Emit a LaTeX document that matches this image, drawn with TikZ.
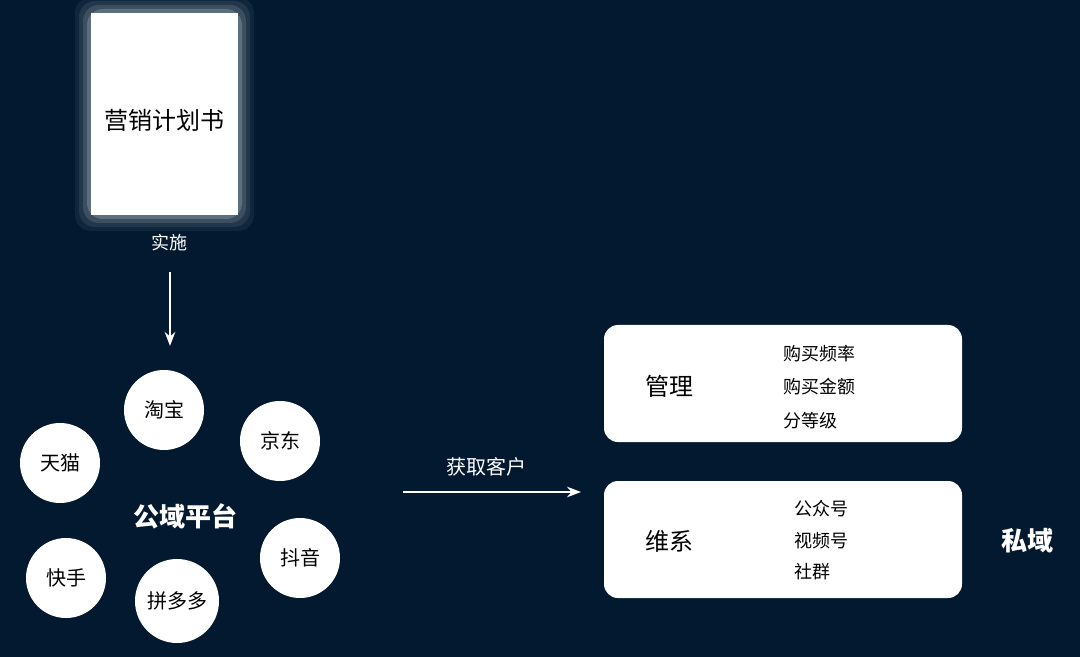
\documentclass[tikz,border=0pt]{standalone}
\usepackage{fontspec}
\newfontfamily\cjk{Noto Sans CJK SC}
\usetikzlibrary{arrows.meta}
\definecolor{navy}{RGB}{2,25,48}
\tikzset{
  bubble/.style={circle,fill=white,minimum size=40pt,inner sep=0pt,font=\cjk\fontsize{10}{12}\selectfont},
  panel/.style={rounded corners=7pt,fill=white},
  lbl/.style={text=white,font=\cjk\fontsize{9}{11}\selectfont},
  item/.style={anchor=west,font=\cjk\fontsize{9}{11}\selectfont},
  flow/.style={white,line width=1.2pt,-{Stealth[length=7pt]}}
}
\begin{document}
\begin{tikzpicture}[x=0.5pt,y=0.5pt,yscale=-1]
\fill[navy] (0,0) rectangle (1080,657);
\useasboundingbox (0,0) rectangle (1080,657);

% glow round the plan
\foreach \g/\o in {16/0.06,12/0.08,8/0.12,4/0.18}
  \fill[white,opacity=\o,rounded corners=8pt] (91-\g,13-\g) rectangle (238+\g,215+\g);
\fill[white] (91,13) rectangle (238,215);
\node (plan) at (164.5,120) {\cjk\fontsize{12}{14}\selectfont 营销计划书};
\node[lbl] (act) at (169,243) {实施};
\coordinate (top) at (170,272);
\coordinate (bot) at (170,346);
\draw[flow] (top) -- (bot);

% public platforms
\node[bubble] (tb) at (164,410) {淘宝};
\node[bubble] (jd) at (280,441) {京东};
\node[bubble] (tm) at (60,463) {天猫};
\node[bubble] (ks) at (66,578) {快手};
\node[bubble,minimum size=42pt] (pdd) at (177,601) {拼多多};
\node[bubble] (dy) at (300,558) {抖音};
\node[text=white,font=\cjk\bfseries\fontsize{13}{15}\selectfont] (pub) at (185,516) {公域平台};

\node[lbl,font=\cjk\fontsize{10}{12}\selectfont] (get) at (486,467) {获取客户};
\coordinate (gs) at (403,492);
\coordinate (ge) at (581,492);
\draw[flow] (gs) -- (ge);

% private domain
\fill[panel] (604,325) rectangle (962,442);
\fill[panel] (604,481) rectangle (962,598);
\node[font=\cjk\fontsize{12}{14}\selectfont] (mg) at (669,386) {管理};
\node[item] (m1) at (776,354) {购买频率};
\node[item] (m2) at (776,387) {购买金额};
\node[item] (m3) at (776,421) {分等级};
\node[font=\cjk\fontsize{12}{14}\selectfont] (wx) at (669,541) {维系};
\node[item] (w1) at (787,509) {公众号};
\node[item] (w2) at (787,541) {视频号};
\node[item] (w3) at (787,572) {社群};
\node[text=white,font=\cjk\bfseries\fontsize{13}{15}\selectfont] (pri) at (1027,541) {私域};
\end{tikzpicture}
\end{document}
